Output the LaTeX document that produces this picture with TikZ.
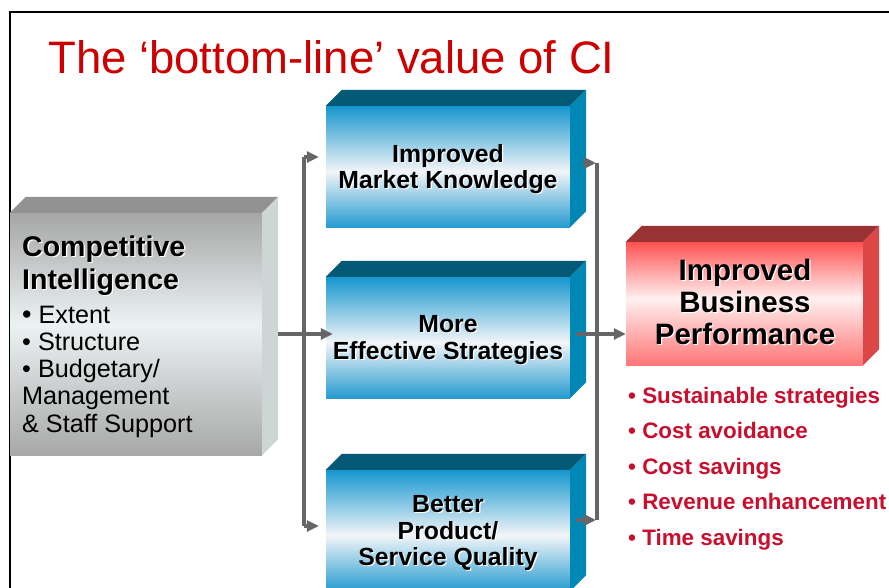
\documentclass[tikz,border=0pt]{standalone}
\usepackage{fontspec}
\setmainfont{Liberation Sans}
\usetikzlibrary{arrows.meta}
\definecolor{titlered}{RGB}{204,0,0}
\definecolor{bulletred}{RGB}{200,16,46}
\definecolor{connc}{RGB}{102,102,102}
\definecolor{bluT}{RGB}{22,150,206}
\definecolor{bluW}{RGB}{242,245,248}
\definecolor{bluB}{RGB}{38,155,208}
\definecolor{bluTop}{RGB}{4,90,118}
\definecolor{bluSide}{RGB}{0,136,180}
\definecolor{gryT}{RGB}{166,166,166}
\definecolor{gryW}{RGB}{236,242,242}
\definecolor{gryB}{RGB}{168,168,168}
\definecolor{gryTop}{RGB}{146,146,146}
\definecolor{grySide}{RGB}{206,214,213}
\definecolor{redT}{RGB}{255,82,82}
\definecolor{redW}{RGB}{255,240,240}
\definecolor{redB}{RGB}{255,118,118}
\definecolor{redTop}{RGB}{153,51,51}
\definecolor{redSide}{RGB}{221,70,70}
\pgfdeclareverticalshading{blueface}{100bp}{color(0bp)=(bluB); color(25bp)=(bluB); color(48bp)=(bluW); color(75bp)=(bluT); color(100bp)=(bluT)}
\pgfdeclareverticalshading{grayface}{100bp}{color(0bp)=(gryB); color(25bp)=(gryB); color(52bp)=(gryW); color(75bp)=(gryT); color(100bp)=(gryT)}
\pgfdeclareverticalshading{redface}{100bp}{color(0bp)=(redB); color(25bp)=(redB); color(52bp)=(redW); color(75bp)=(redT); color(100bp)=(redT)}
\newcommand\shline[5]{%
  \node[#4,text=white,xshift=1.3pt,yshift=-1.3pt] (#1s) at (#2,#3) {#5};
  \node[#4] (#1) at (#2,#3) {#5};}
\newcommand\extrude[3]{%
  \fill[#2] (#1.north west) -- ++(16,-16) -- ([shift={(16,-16)}]#1.north east) -- (#1.north east) -- cycle;
  \fill[#3] (#1.north east) -- ++(16,-16) -- ([shift={(16,-16)}]#1.south east) -- (#1.south east) -- cycle;}
\begin{document}
\begin{tikzpicture}[x=1pt,y=-1pt,
  face/.style={inner sep=0pt, shade, shading=#1},
  conn/.style={draw=connc, line width=3.2pt},
  arr/.style={conn, -{Triangle[length=12pt,width=11pt]}},
  boxtxt/.style={anchor=base, inner sep=0pt, font=\fontsize{24.8}{26}\selectfont\bfseries},
  bigtxt/.style={anchor=base, inner sep=0pt, font=\fontsize{29.5}{30}\selectfont\bfseries},
  headtxt/.style={anchor=base west, inner sep=0pt, font=\fontsize{28.5}{30}\selectfont\bfseries},
  ltxt/.style={anchor=base west, inner sep=0pt, font=\fontsize{25.2}{26}\selectfont},
  rtxt/.style={anchor=base west, inner sep=0pt, text=bulletred, font=\fontsize{22.4}{24}\selectfont\bfseries}]
\useasboundingbox (0,0) rectangle (889,587);
\clip (0,0) rectangle (889,587);
\fill[white] (0,0) rectangle (889,587);
% frame
\draw[line width=2pt] (10,590) -- (10,12) -- (892,12);
% title
\node[anchor=base west, inner sep=0pt, text=titlered, font=\fontsize{45.5}{48}\selectfont] (title) at (48,73) {The ‘bottom-line’ value of CI};
% boxes
\node[face=grayface, minimum width=252pt, minimum height=242pt] (ci) at (136,334) {};
\extrude{ci}{gryTop}{grySide}
\node[face=blueface, minimum width=244pt, minimum height=121pt] (mk) at (448,166.5) {};
\extrude{mk}{bluTop}{bluSide}
\node[face=blueface, minimum width=244pt, minimum height=121pt] (me) at (448,337.5) {};
\extrude{me}{bluTop}{bluSide}
\node[face=blueface, minimum width=244pt, minimum height=121pt] (bq) at (448,530.5) {};
\extrude{bq}{bluTop}{bluSide}
\node[face=redface, minimum width=237pt, minimum height=123pt] (ibp) at (744.5,303.5) {};
\extrude{ibp}{redTop}{redSide}
% connectors
\coordinate (lt) at (304,157);
\coordinate (lb) at (304,526);
\coordinate (lm) at (304,334);
\coordinate (rt) at (597,163);
\coordinate (rb) at (597,520);
\coordinate (rm) at (597,334);
\draw[conn] (lt) -- (lb);
\draw[arr, shorten >=7pt] (lt) -- (lt -| mk.west);
\draw[arr, shorten >=7pt] (lb) -- (lb -| bq.west);
\draw[arr, shorten <=16pt, shorten >=-7pt] (ci.east |- lm) -- (me.west |- lm);
\draw[conn] (rt) -- (rb);
\draw[arr, shorten <=13pt, shorten >=1pt] (mk.east |- rt) -- (rt);
\draw[arr, shorten <=6pt, shorten >=1pt] (bq.east |- rb) -- (rb);
\draw[arr, shorten <=6pt, shorten >=0pt] (me.east |- rm) -- (ibp.west |- rm);
% texts
\shline{ci1}{22}{256}{headtxt}{Competitive}
\shline{ci2}{22}{289}{headtxt}{Intelligence}
\node[ltxt] (b1) at (22,323.5) {{\fontsize{27}{26}\selectfont•} Extent};
\node[ltxt] (b2) at (22,350.5) {• Structure};
\node[ltxt] (b3) at (22,377.5) {• Budgetary/};
\node[ltxt] (b4) at (22,404.5) {Management};
\node[ltxt] (b5) at (22,432.5) {\& Staff Support};
\shline{mk1}{448}{162}{boxtxt}{Improved}
\shline{mk2}{448}{188.5}{boxtxt}{Market Knowledge}
\shline{me1}{448}{332}{boxtxt}{More}
\shline{me2}{448}{359}{boxtxt}{Effective Strategies}
\shline{bq1}{448}{512}{boxtxt}{Better}
\shline{bq2}{448}{539}{boxtxt}{Product/}
\shline{bq3}{448}{565.5}{boxtxt}{Service Quality}
\shline{ib1}{745}{280.5}{bigtxt}{Improved}
\shline{ib2}{745}{312.5}{bigtxt}{Business}
\shline{ib3}{745}{344.5}{bigtxt}{Performance}
\node[rtxt] (r1) at (628,403) {• Sustainable strategies};
\node[rtxt] (r2) at (628,438.5) {• Cost avoidance};
\node[rtxt] (r3) at (628,474) {• Cost savings};
\node[rtxt] (r4) at (628,509.5) {• Revenue enhancement};
\node[rtxt] (r5) at (628,545) {• Time savings};
\end{tikzpicture}
\end{document}
